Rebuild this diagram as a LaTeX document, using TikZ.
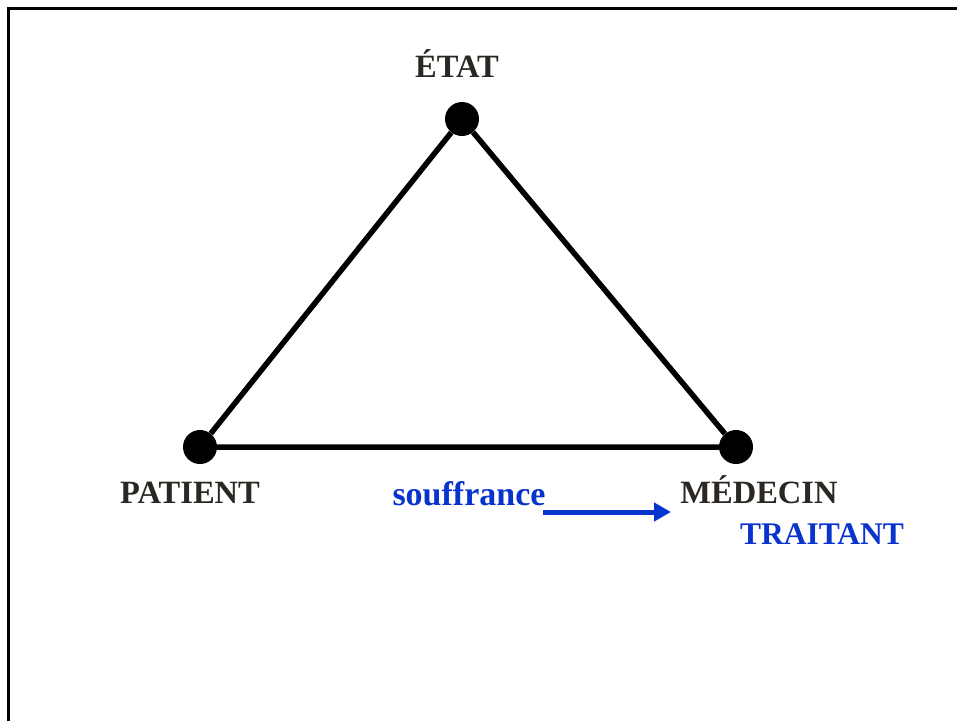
\documentclass[tikz,border=0pt]{standalone}
\usepackage{fontspec}
\setmainfont{Liberation Serif}
\usetikzlibrary{arrows.meta}
\definecolor{ink}{RGB}{43,39,34}
\definecolor{royal}{RGB}{8,51,204}
\begin{document}
\begin{tikzpicture}[x=1pt,y=-1pt,
  vertex/.style={circle,fill=black,inner sep=0pt,minimum size=34pt},
  side/.style={line width=5.5pt,line join=round},
  lbl/.style={anchor=base,inner sep=0pt,text=ink,font=\fontsize{32.5}{38}\selectfont\bfseries},
  bluelbl/.style={lbl,text=royal},
  frame/.style={line width=3.5pt}]
\useasboundingbox (0,0) rectangle (957,721);
% page frame, open at the right and bottom
\draw[frame] (8.5,721) -- (8.5,8.5) -- (957,8.5);
% the three poles
\node[vertex] (etat) at (462,119) {};
\node[vertex] (patient) at (200,447) {};
\node[vertex] (medecin) at (736,447) {};
\draw[side] (etat) -- (patient) -- (medecin) -- (etat);
% labels
\node[lbl] (tetat) at (457,77) {ÉTAT};
\node[lbl] (tpatient) at (190,503) {PATIENT};
\node[lbl] (tmedecin) at (759,503) {MÉDECIN};
\node[bluelbl,font=\fontsize{34}{40}\selectfont\bfseries] (tsouf) at (469,505) {souffrance};
\node[bluelbl,font=\fontsize{31.5}{38}\selectfont\bfseries] (ttrait) at (822,544) {TRAITANT};
% arrow from suffering to the doctor
\coordinate (a0) at (543,512);
\coordinate (a1) at (671,512);
\draw[royal,line width=5pt,-{Triangle[length=17pt,width=18pt]}] (a0) -- (a1);
\end{tikzpicture}
\end{document}
